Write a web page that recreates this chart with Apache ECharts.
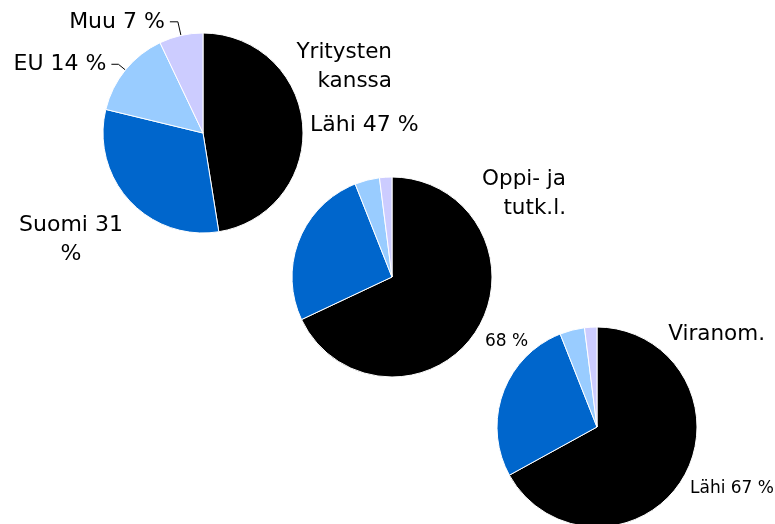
<!DOCTYPE html>
<html>
<head>
<meta charset="utf-8">
<script src="https://cdn.jsdelivr.net/npm/echarts@6/dist/echarts.min.js"></script>
<style>
  html, body { margin: 0; padding: 0; background: #fff; }
  #chart { width: 775px; height: 524px; }
</style>
</head>
<body>
<div id="chart"></div>
<script>
const categories = ['Lähi', 'Suomi', 'EU', 'Muu']
const yritykset = [47, 31, 14, 7]
const oppilaitokset = [68, 26, 4, 2]
const viranomaiset = [67, 27, 4, 2]
const colors = ['#000000', '#0066CC', '#99CCFF', '#CCCCFF']

const FONT = 'DejaVu Sans, Tahoma, sans-serif'

// label placement per series (dataIndex -> spot), the rest use default outside layout
const labelSpots = [
  { 0: { x: 310, y: 125, align: 'left' }, 1: { x: 71, y: 240, align: 'center' } },
  { 0: { x: 485, y: 342, align: 'left' } },
  { 0: { x: 690, y: 489, align: 'left' } }
]

function buildPie(idx, values, center, opts) {
  return {
    type: 'pie',
    center: center,
    radius: 100,
    startAngle: 90,
    clockwise: true,
    avoidLabelOverlap: false,
    animation: false,
    silent: true,
    itemStyle: { borderColor: '#fff', borderWidth: 1 },
    label: {
      show: true,
      position: 'outside',
      color: '#000',
      fontFamily: FONT,
      fontSize: opts.fontSize,
      lineHeight: 29,
      formatter: opts.formatter
    },
    labelLine: {
      show: false,
      smooth: false,
      lineStyle: { color: '#000', width: 1 }
    },
    labelLayout: (params) => {
      const spot = labelSpots[idx][params.dataIndex]
      if (!spot) return {}
      return { x: spot.x, y: spot.y, align: spot.align, verticalAlign: 'middle' }
    },
    data: values.map((v, i) => {
      const lines = opts.lines && opts.lines[i]
      return {
        name: categories[i],
        value: v,
        itemStyle: { color: colors[i] },
        label: { show: opts.labeled.includes(i) },
        labelLine: lines ? { show: true, length: lines[0], length2: lines[1] } : { show: false }
      }
    })
  }
}

const chart = echarts.init(document.getElementById('chart'))
chart.setOption({
  backgroundColor: '#fff',
  animation: false,
  graphic: [
    { type: 'text', x: 392, y: 67, style: { text: 'Yritysten\nkanssa', textAlign: 'right', textVerticalAlign: 'middle', fontFamily: FONT, fontSize: 21.5, lineHeight: 29, fill: '#000' } },
    { type: 'text', x: 566, y: 194, style: { text: 'Oppi- ja\ntutk.l.', textAlign: 'right', textVerticalAlign: 'middle', fontFamily: FONT, fontSize: 21.5, lineHeight: 29, fill: '#000' } },
    { type: 'text', x: 765, y: 334, style: { text: 'Viranom.', textAlign: 'right', textVerticalAlign: 'middle', fontFamily: FONT, fontSize: 21.5, fill: '#000' } }
  ],
  series: [
    buildPie(0, yritykset, [203, 133], {
      fontSize: 22,
      labeled: [0, 1, 2, 3],
      lines: { 2: [9, 7], 3: [14, 8] },
      formatter: (p) => p.name + ' ' + p.value + (p.dataIndex === 1 ? '\n' : ' ') + '%'
    }),
    buildPie(1, oppilaitokset, [392, 277], {
      fontSize: 17,
      labeled: [0],
      formatter: (p) => p.value + ' %'
    }),
    buildPie(2, viranomaiset, [597, 427], {
      fontSize: 17,
      labeled: [0],
      formatter: (p) => p.name + ' ' + p.value + ' %'
    })
  ]
})
</script>
</body>
</html>
